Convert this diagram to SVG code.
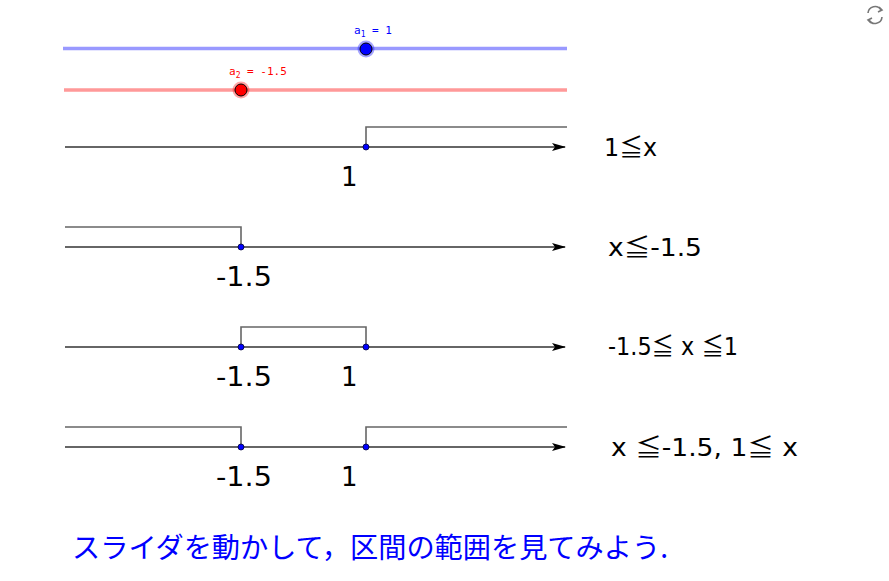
<svg xmlns="http://www.w3.org/2000/svg" width="889" height="581" viewBox="0 0 889 581">
<defs>
<style>
.ax{stroke:#666;stroke-width:2;fill:none}
.br{stroke:#666;stroke-width:1.6;fill:none}
.pt{fill:#0000ff;stroke:#000033;stroke-width:0.8}
.lbl{font-family:"DejaVu Sans","Noto Sans",sans-serif;font-size:26px;fill:#000}
.ineq{font-family:"DejaVu Sans","Noto Sans CJK JP",sans-serif;font-size:24px;fill:#000}
.le{font-family:"Noto Sans CJK JP",sans-serif}
.sl{font-family:"DejaVu Sans Mono","Liberation Mono",monospace;font-size:11px}
</style>
<marker id="arr" viewBox="0 0 14 8" refX="13" refY="4" markerWidth="14" markerHeight="8" markerUnits="userSpaceOnUse" orient="auto">
<path d="M0,0 L14,4 L0,8 L3,4 Z" fill="#000"/>
</marker>
</defs>
<rect width="889" height="581" fill="#fff"/>
<g id="refresh" fill="none" stroke="#777" stroke-width="1.6">
<path d="M868,13 A7,7 0 0 1 881,10"/>
<path d="M882,17 A7,7 0 0 1 869,20"/>
<path d="M879,7 L882,10 L878,12"/>
<path d="M871,23 L868,20 L872,18"/>
</g>
<g id="slider-a1">
<line x1="63" y1="48.5" x2="567" y2="48.5" stroke="#9999ff" stroke-width="3.5"/>
<circle cx="366" cy="49" r="8.5" fill="#0000ff" fill-opacity="0.35"/>
<circle cx="366" cy="49" r="6" fill="#0000ff" stroke="#000" stroke-width="1"/>
<text class="sl" x="354" y="34" fill="#0000ff">a<tspan font-size="8" dy="3">1</tspan><tspan dy="-3"> = 1</tspan></text>
</g>
<g id="slider-a2">
<line x1="64" y1="90" x2="567" y2="90" stroke="#ff9999" stroke-width="3.5"/>
<circle cx="241" cy="90" r="8.5" fill="#ff0000" fill-opacity="0.35"/>
<circle cx="241" cy="90" r="6" fill="#ff0000" stroke="#000" stroke-width="1"/>
<text class="sl" x="229" y="75" fill="#ff0000">a<tspan font-size="8" dy="3">2</tspan><tspan dy="-3"> = -1.5</tspan></text>
</g>
<g id="connectors">
<line class="ax" x1="65" y1="147" x2="565" y2="147" marker-end="url(#arr)"/>
<path class="br" d="M366,147 V127 H567"/>
<line class="ax" x1="65" y1="247" x2="565" y2="247" marker-end="url(#arr)"/>
<path class="br" d="M65,227 H241 V247"/>
<line class="ax" x1="65" y1="347" x2="565" y2="347" marker-end="url(#arr)"/>
<path class="br" d="M241,347 V327 H366 V347"/>
<line class="ax" x1="65" y1="447" x2="565" y2="447" marker-end="url(#arr)"/>
<path class="br" d="M65,427 H241 V447"/>
<path class="br" d="M366,447 V427 H567"/>
</g>
<g id="line1">
<circle class="pt" cx="366" cy="147" r="3"/>
<text class="lbl" x="341" y="186">1</text>
<text class="ineq" x="604" y="156" textLength="53" lengthAdjust="spacingAndGlyphs">1<tspan class="le">≦</tspan>x</text>
</g>
<g id="line2">
<circle class="pt" cx="241" cy="247" r="3"/>
<text class="lbl" x="216" y="286" textLength="56" lengthAdjust="spacingAndGlyphs">-1.5</text>
<text class="ineq" x="608" y="256" textLength="94" lengthAdjust="spacingAndGlyphs">x<tspan class="le">≦</tspan>-1.5</text>
</g>
<g id="line3">
<circle class="pt" cx="241" cy="347" r="3"/>
<circle class="pt" cx="366" cy="347" r="3"/>
<text class="lbl" x="216" y="386" textLength="56" lengthAdjust="spacingAndGlyphs">-1.5</text>
<text class="lbl" x="341" y="386">1</text>
<text class="ineq" x="608" y="355" font-size="20" textLength="130" lengthAdjust="spacingAndGlyphs">-1.5<tspan class="le">≦</tspan> x <tspan class="le">≦</tspan>1</text>
</g>
<g id="line4">
<circle class="pt" cx="241" cy="447" r="3"/>
<circle class="pt" cx="366" cy="447" r="3"/>
<text class="lbl" x="216" y="486" textLength="56" lengthAdjust="spacingAndGlyphs">-1.5</text>
<text class="lbl" x="341" y="486">1</text>
<text class="ineq" x="611" y="456" textLength="187" lengthAdjust="spacingAndGlyphs">x <tspan class="le">≦</tspan>-1.5, 1<tspan class="le">≦</tspan> x</text>
</g>
<g id="caption">
<text x="72" y="558" font-family="'Noto Sans CJK JP',sans-serif" font-size="28" fill="#0000ff" textLength="596" lengthAdjust="spacingAndGlyphs">スライダを動かして，区間の範囲を見てみよう.</text>
</g>
</svg>
